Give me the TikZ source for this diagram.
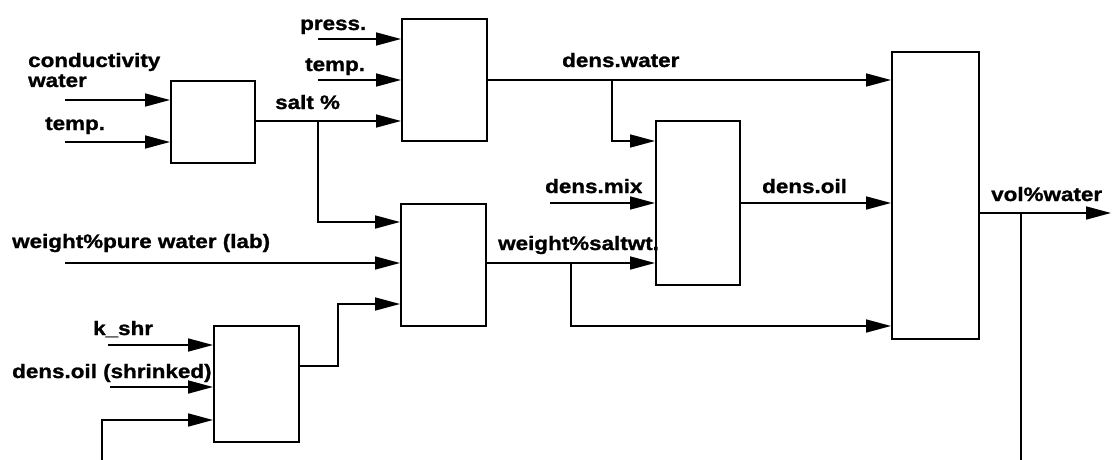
\documentclass[tikz,border=0pt]{standalone}
\usepackage{fontspec}
\newfontfamily\lblfont{Liberation Sans}[FakeStretch=1.15,FakeBold=1.2]
\usetikzlibrary{arrows.meta}
\tikzset{
 blk/.style={draw, line width=1.8pt, anchor=north west, inner sep=0pt},
 wire/.style={line width=1.7pt},
 arr/.style={wire, -{Triangle[length=25pt,width=13pt]}},
 lbl/.style={font=\lblfont\bfseries\fontsize{19.5}{21}\selectfont, inner sep=0pt, anchor=base west},
}
\begin{document}
\begin{tikzpicture}[x=1pt,y=-1pt]
\useasboundingbox (0,0) rectangle (1114,460);
% blocks
\node[blk, minimum width=84pt, minimum height=82pt] (A) at (170,80) {};
\node[blk, minimum width=85pt, minimum height=122pt] (B) at (401,18) {};
\node[blk, minimum width=85pt, minimum height=122pt] (C) at (400,203) {};
\node[blk, minimum width=85pt, minimum height=116pt] (D) at (213,325) {};
\node[blk, minimum width=84pt, minimum height=164pt] (E) at (655,120) {};
\node[blk, minimum width=87pt, minimum height=287pt] (F) at (891,51) {};
% free ends
\coordinate (cwIn) at (65,100);
\coordinate (tIn1) at (65,142);
\coordinate (pIn) at (318,39);
\coordinate (tIn2) at (318,80);
\coordinate (saltB) at (318,121);
\coordinate (wpIn) at (65,263);
\coordinate (kIn) at (108,345);
\coordinate (doIn) at (110,387);
\coordinate (fbIn) at (102,460);
\coordinate (dwB) at (612,80);
\coordinate (dmIn) at (550,203);
\coordinate (wsB) at (571,263);
\coordinate (vwOut) at (1111,213);
\coordinate (vwB) at (1021,213);
\coordinate (vwEnd) at (1021,460);
% connectors
\draw[arr] (cwIn) -- (cwIn -| A.west);
\draw[arr] (tIn1) -- (tIn1 -| A.west);
\draw[arr] (pIn) -- (pIn -| B.west);
\draw[arr] (tIn2) -- (tIn2 -| B.west);
\draw[arr] (A.east |- saltB) -- (saltB -| B.west);
\draw[arr] (saltB) |- (C.west |- 0,222);
\draw[arr] (wpIn) -- (wpIn -| C.west);
\draw[arr] (D.east |- 0,366) -- (338,366) |- (C.west |- 0,304);
\draw[arr] (kIn) -- (kIn -| D.west);
\draw[arr] (doIn) -- (doIn -| D.west);
\draw[arr] (fbIn) |- (D.west |- 0,420);
\draw[arr] (B.east |- dwB) -- (dwB -| F.west);
\draw[arr] (dwB) |- (E.west |- 0,141);
\draw[arr] (dmIn) -- (dmIn -| E.west);
\draw[arr] (C.east |- wsB) -- (wsB -| E.west);
\draw[arr] (wsB) |- (F.west |- 0,326);
\draw[arr] (E.east |- 0,203) -- (F.west |- 0,203);
\draw[arr] (F.east |- vwOut) -- (vwOut);
\draw[wire] (vwB) -- (vwEnd);
% labels
\node[lbl] (l1) at (28,67) {conductivity};
\node[lbl] (l2) at (28,87) {water};
\node[lbl] (l3) at (45,130) {temp.};
\node[lbl] (l4) at (300,30) {press.};
\node[lbl] (l5) at (305,71) {temp.};
\node[lbl] (l6) at (275,109) {salt \%};
\node[lbl] (l7) at (562,67) {dens.water};
\node[lbl] (l8) at (545,193) {dens.mix};
\node[lbl] (l9) at (762,193) {dens.oil};
\node[lbl] (l10) at (991,201) {vol\%water};
\node[lbl] (l11) at (498,250) {weight\%saltwt.};
\node[lbl] (l12) at (12,248) {weight\%pure water (lab)};
\node[lbl] (l13) at (93,335) {k\_shr};
\node[lbl] (l14) at (12,378) {dens.oil (shrinked)};
\end{tikzpicture}
\end{document}
